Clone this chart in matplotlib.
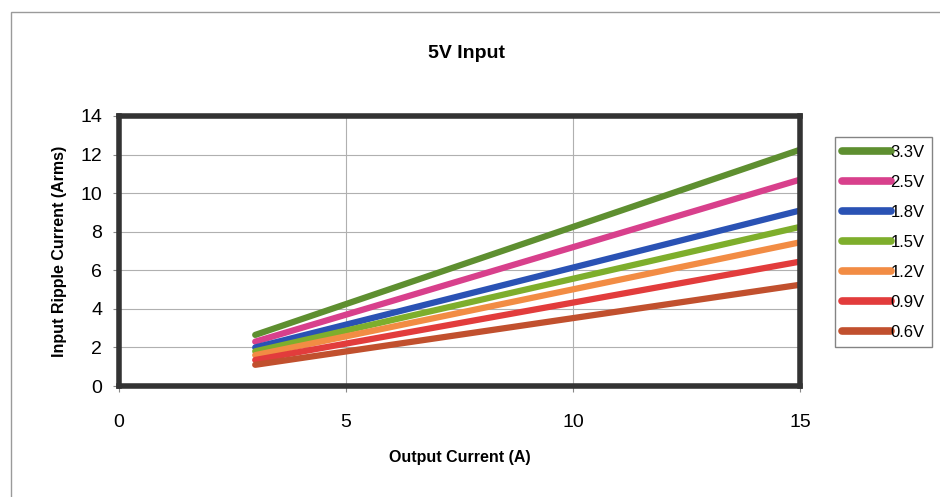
import matplotlib.pyplot as plt
from matplotlib.patches import Rectangle

plt.rcParams['font.family'] = ['Liberation Sans', 'DejaVu Sans']

# output current (A), first and last point of each curve
current = [3, 15]

# input ripple current (Arms) per output voltage
v33 = [2.65, 12.25]
v25 = [2.3, 10.7]
v18 = [2.0, 9.1]
v15 = [1.8, 8.25]
v12 = [1.6, 7.45]
v09 = [1.35, 6.45]
v06 = [1.1, 5.25]

labels = ["3.3V", "2.5V", "1.8V", "1.5V", "1.2V", "0.9V", "0.6V"]
series = [v33, v25, v18, v15, v12, v09, v06]
colors = ["#5e8f30", "#d8408c", "#2a52b4", "#7eae2c", "#f28c44", "#e23c3c", "#c1502e"]

fig = plt.figure(figsize=(9.4, 4.97), dpi=100)
ax = fig.add_axes([0.1266, 0.2233, 0.7245, 0.5433])

# thin border round the whole chart
fig.patches.append(Rectangle((0.012, -0.01), 1.0, 0.985, transform=fig.transFigure,
                             fill=False, edgecolor="#9a9a9a", linewidth=1.0))

for vals, lab, c in zip(series, labels, colors):
    ax.plot(current, vals, color=c, linewidth=4.5, solid_capstyle='round', label=lab)

ax.set_xlim(0, 15)
ax.set_ylim(0, 14)
ax.set_xticks([0, 5, 10, 15])
ax.set_yticks(range(0, 15, 2))
ax.grid(True, color="#b0b0b0", linewidth=0.8)
ax.set_axisbelow(True)
for s in ax.spines.values():
    s.set_linewidth(4)
    s.set_color("#333333")
ax.tick_params(axis='both', labelsize=14, length=4, width=0.8, color="#888888")
ax.tick_params(axis='x', pad=16)
ax.tick_params(axis='y', pad=8)

ax.set_xlabel("Output Current (A)", fontsize=11.5, fontweight='bold', labelpad=14)
ax.set_ylabel("Input Ripple Current (Arms)", fontsize=11.5, fontweight='bold', labelpad=10)
fig.text(0.496, 0.893, "5V Input", ha='center', va='center', fontsize=14, fontweight='bold')

leg = ax.legend(loc='upper left', bbox_to_anchor=(1.051, 0.922), fontsize=12,
                frameon=True, fancybox=False, handlelength=2.9, handletextpad=0.0,
                labelspacing=0.9, borderpad=0.45, borderaxespad=0)
leg.get_frame().set_edgecolor("#666666")
leg.get_frame().set_linewidth(1.0)
for h in leg.get_lines():
    h.set_linewidth(5.5)

fig.savefig("out.png", dpi=100)
